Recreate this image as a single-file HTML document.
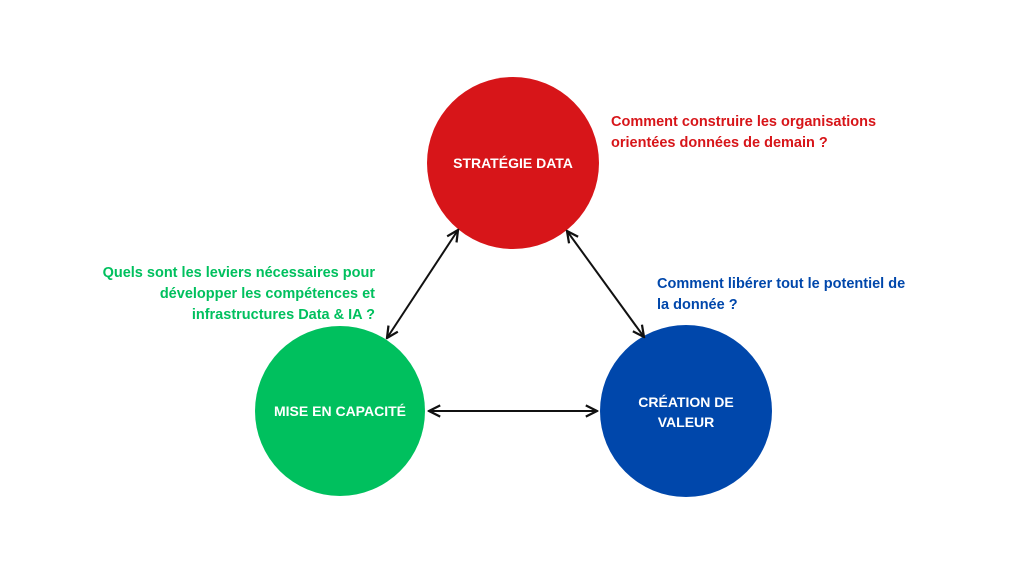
<!DOCTYPE html>
<html><head><meta charset="utf-8"><style>
html,body{margin:0;padding:0;background:#fff;}
svg{display:block;}
text{font-family:"Liberation Sans",sans-serif;font-weight:bold;}
</style></head><body>
<svg width="1024" height="576" viewBox="0 0 1024 576" xmlns="http://www.w3.org/2000/svg">
<defs>
<marker id="a" viewBox="0 0 10 10" refX="9" refY="5" markerWidth="7" markerHeight="7" orient="auto-start-reverse">
<path d="M1 1 L9 5 L1 9" fill="none" stroke="#111" stroke-width="1.6"/>
</marker>
</defs>
<rect width="1024" height="576" fill="#fff"/>
<circle cx="513" cy="163" r="86" fill="#d71519"/>
<circle cx="340" cy="411" r="85" fill="#00c05e"/>
<circle cx="686" cy="411" r="86" fill="#0047ab"/>
<g stroke="#111" stroke-width="2" marker-start="url(#a)" marker-end="url(#a)">
<line x1="458" y1="230" x2="387" y2="338"/>
<line x1="567" y1="231" x2="644" y2="337"/>
<line x1="429" y1="411" x2="597" y2="411"/>
</g>
<g fill="#fff" font-size="14" text-anchor="middle">
<text x="513" y="168">STRATÉGIE DATA</text>
<text x="340" y="416">MISE EN CAPACITÉ</text>
<text x="686" y="407">CRÉATION DE</text>
<text x="686" y="427">VALEUR</text>
</g>
<g font-size="14.5">
<text x="611" y="126" fill="#d71519">Comment construire les organisations</text>
<text x="611" y="147" fill="#d71519">orientées données de demain ?</text>
<text x="657" y="288" fill="#0047ab">Comment libérer tout le potentiel de</text>
<text x="657" y="309" fill="#0047ab">la donnée ?</text>
<g fill="#00c05e" text-anchor="end">
<text x="375" y="277">Quels sont les leviers nécessaires pour</text>
<text x="375" y="298">développer les compétences et</text>
<text x="375" y="319">infrastructures Data &amp; IA ?</text>
</g>
</g>
</svg>
</body></html>
